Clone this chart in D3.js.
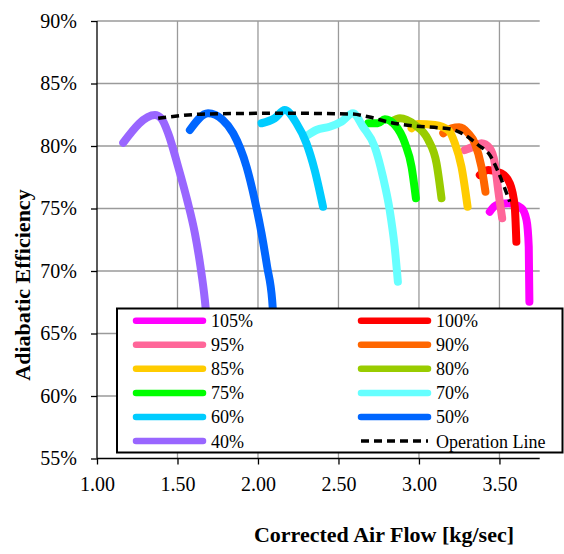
<!DOCTYPE html>
<html>
<head>
<meta charset="utf-8">
<script src="https://cdn.jsdelivr.net/npm/d3@7"></script>
<style>
  body { margin: 0; background: #fff; }
  svg { font-family: "Liberation Serif", "Times New Roman", serif; }
</style>
</head>
<body>
<div class="chart"></div>
<script>
// speed lines, in legend order (also drawing order)
var speeds = ["105%", "100%", "95%", "90%", "85%", "80%", "75%", "70%", "60%", "50%", "40%"];
var colors = ["#ff00ff", "#ff0000", "#ff6699", "#ff6600", "#ffcc00", "#99cc00",
              "#00ff00", "#66ffff", "#00ccff", "#0066ff", "#9966ff"];

// [corrected air flow kg/sec, efficiency %]
var s105 = [[3.44, 74.74], [3.481, 75.28], [3.554, 75.42], [3.637, 75.02], [3.668, 74.08], [3.682, 71.94], [3.686, 67.54]];
var s100 = [[3.378, 77.68], [3.43, 78.08], [3.512, 77.82], [3.564, 77.02], [3.595, 75.14], [3.605, 72.34]];
var s95  = [[3.285, 79.68], [3.337, 79.94], [3.388, 80.22], [3.44, 79.82], [3.471, 78.62], [3.492, 76.48], [3.517, 74.22]];
var s90  = [[3.151, 81.02], [3.202, 81.42], [3.25, 81.5], [3.306, 81.02], [3.347, 80.22], [3.388, 78.34], [3.413, 76.34]];
var s85  = [[2.954, 81.42], [2.996, 81.76], [3.099, 81.68], [3.182, 81.28], [3.223, 80.22], [3.264, 78.34], [3.302, 75.14]];
var s80  = [[2.83, 81.94], [2.882, 82.22], [2.975, 81.68], [3.058, 80.48], [3.109, 78.62], [3.14, 75.82]];
var s75  = [[2.685, 81.82], [2.745, 81.82], [2.788, 82.14], [2.851, 81.68], [2.913, 80.22], [2.954, 78.34], [2.981, 75.82]];
var s70  = [[2.311, 80.88], [2.363, 81.28], [2.445, 81.54], [2.518, 81.94], [2.59, 82.62], [2.652, 81.54], [2.725, 79.94],
            [2.776, 77.54], [2.818, 74.88], [2.849, 71.94], [2.869, 69.14]];
var s60  = [[2.022, 81.82], [2.104, 82.22], [2.166, 82.88], [2.239, 81.82], [2.301, 80.22], [2.352, 78.08], [2.404, 75.14]];
var s50  = [[1.577, 81.28], [1.69, 82.62], [1.78, 82.1], [1.846, 81.02], [1.929, 78.34], [1.98, 75.68], [2.022, 73.02],
            [2.057, 70.34], [2.088, 67.68], [2.11, 63.0]];
var s40  = [[1.163, 80.26], [1.36, 82.48], [1.40, 82.2], [1.442, 81.02], [1.504, 78.34], [1.56, 75.68], [1.608, 73.02],
            [1.643, 70.34], [1.67, 67.68], [1.70, 63.0]];
var operationLine = [[1.38, 82.22], [1.68, 82.56], [2.148, 82.62], [2.582, 82.56], [2.685, 82.34], [2.83, 81.86],
                     [2.975, 81.6], [3.12, 81.46], [3.202, 81.34], [3.285, 80.88], [3.368, 80.08], [3.44, 79.28],
                     [3.492, 77.94], [3.529, 76.74], [3.564, 75.54]];
var seriesData = [s105, s100, s95, s90, s85, s80, s75, s70, s60, s50, s40];

var xTicks = [1.0, 1.5, 2.0, 2.5, 3.0, 3.5];
var yTicks = [55, 60, 65, 70, 75, 80, 85, 90];

var W = 564, H = 554;
var plotLeft = 97, plotRight = 539.7, plotTop = 21, plotBottom = 458.5;

var svg = d3.select(".chart")
  .append("svg")
    .attr("width", W)
    .attr("height", H);

var x = d3.scaleLinear().domain([1.0, 3.75]).range([plotLeft, plotRight]);
var y = d3.scaleLinear().domain([55, 90]).range([plotBottom, plotTop]);

// grid
svg.append("g")
  .selectAll("line")
  .data(yTicks.filter(function(d) { return d > 55; }))
  .enter().append("line")
    .attr("x1", plotLeft).attr("x2", plotRight)
    .attr("y1", function(d) { return y(d); })
    .attr("y2", function(d) { return y(d); })
    .attr("stroke", "#9a9a9a")
    .attr("stroke-width", 1.3);

svg.append("g")
  .selectAll("line")
  .data(xTicks.filter(function(d) { return d > 1; }))
  .enter().append("line")
    .attr("x1", function(d) { return x(d); })
    .attr("x2", function(d) { return x(d); })
    .attr("y1", plotTop).attr("y2", plotBottom)
    .attr("stroke", "#9a9a9a")
    .attr("stroke-width", 1.3);

// axes
var xaxis = d3.axisBottom(x).tickValues(xTicks).tickSize(6).tickPadding(12)
  .tickFormat(d3.format(".2f"));
var yaxis = d3.axisLeft(y).tickValues(yTicks).tickSize(6).tickPadding(14)
  .tickFormat(function(d) { return d + "%"; });

var gx = svg.append("g")
  .attr("transform", "translate(0," + plotBottom + ")")
  .call(xaxis);
var gy = svg.append("g")
  .attr("transform", "translate(" + plotLeft + ",0)")
  .call(yaxis);

[gx, gy].forEach(function(g) {
  g.attr("font-family", null);
  g.select(".domain").attr("stroke", "#000").attr("stroke-width", 1.3);
  g.selectAll(".tick line").attr("stroke", "#000").attr("stroke-width", 1.3);
  g.selectAll(".tick text")
    .attr("fill", "#000")
    .style("font-size", "20px");
});
gy.select(".domain").attr("d", "M0," + plotTop + "V" + plotBottom);
gx.select(".domain").attr("d", "M" + plotLeft + ",0H" + plotRight);

// curves
var line = d3.line()
  .x(function(d) { return x(d[0]); })
  .y(function(d) { return y(d[1]); })
  .curve(d3.curveMonotoneX);

svg.append("g")
  .selectAll("path")
  .data(seriesData)
  .enter().append("path")
    .attr("d", line)
    .attr("fill", "none")
    .attr("stroke", function(d, i) { return colors[i]; })
    .attr("stroke-width", 8)
    .attr("stroke-linecap", "round")
    .attr("stroke-linejoin", "round");

svg.append("path")
  .datum(operationLine)
  .attr("d", line)
  .attr("fill", "none")
  .attr("stroke", "#000")
  .attr("stroke-width", 3.5)
  .attr("stroke-dasharray", "8,5");

// legend
var legend = svg.append("g");
legend.append("rect")
  .attr("x", 117).attr("y", 308.5)
  .attr("width", 445.5).attr("height", 144)
  .attr("fill", "#fff")
  .attr("stroke", "#000")
  .attr("stroke-width", 2);

var legendItems = speeds.map(function(s, i) { return {label: s, color: colors[i], dash: false}; });
legendItems.push({label: "Operation Line", color: "#000", dash: true});

var item = legend.selectAll(".item")
  .data(legendItems)
  .enter().append("g")
    .attr("class", "item")
    .attr("transform", function(d, i) {
      var col = i % 2, row = Math.floor(i / 2);
      return "translate(" + (col === 0 ? 136 : 361) + "," + (320.7 + row * 24.06) + ")";
    });

item.append("line")
  .attr("x1", 0).attr("x2", 67)
  .attr("stroke", function(d) { return d.color; })
  .attr("stroke-width", function(d) { return d.dash ? 3.5 : 6.5; })
  .attr("stroke-linecap", function(d) { return d.dash ? "butt" : "round"; })
  .attr("stroke-dasharray", function(d) { return d.dash ? "8,5" : null; });

item.append("text")
  .attr("x", 75)
  .attr("y", 6.5)
  .style("font-size", "18px")
  .attr("fill", "#000")
  .text(function(d) { return d.label; });

// axis titles
svg.append("text")
  .attr("transform", "translate(29.5,285) rotate(-90)")
  .attr("text-anchor", "middle")
  .style("font-size", "22px")
  .style("font-weight", "bold")
  .text("Adiabatic Efficiency");

svg.append("text")
  .attr("x", 384)
  .attr("y", 542)
  .attr("text-anchor", "middle")
  .style("font-size", "22px")
  .style("font-weight", "bold")
  .text("Corrected Air Flow [kg/sec]");
</script>
</body>
</html>
